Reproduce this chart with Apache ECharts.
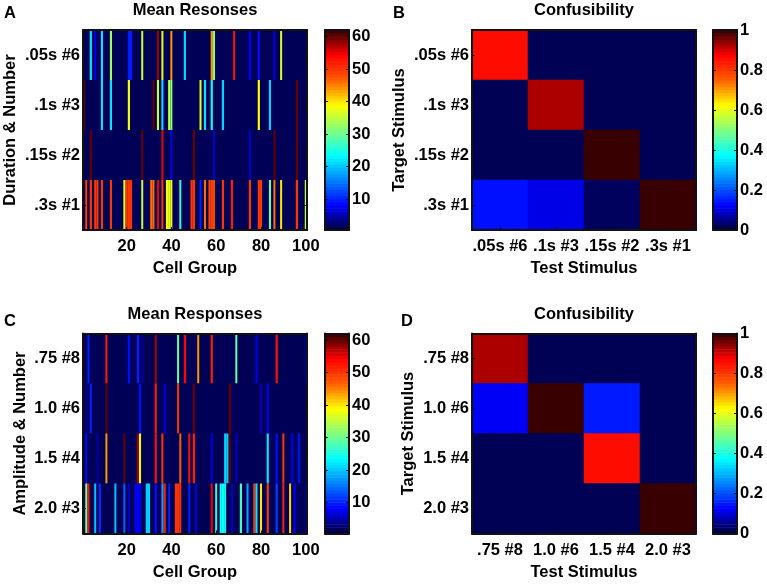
<!DOCTYPE html>
<html><head><meta charset="utf-8">
<style>html,body{margin:0;padding:0;background:#fff}#c{width:767px;height:584px}</style>
<script src="https://cdn.jsdelivr.net/npm/echarts@6/dist/echarts.min.js"></script>
</head><body><div id="c"></div>
<script>
// --- data: [cell group, mean response] for the non-silent groups of each stimulus row
const durationRow1 = [[4,22],[6,8],[9,22],[13,33],[21,10],[22,10],[27,36],[34,58],[36,37],[40,44],[46,21],[58,44],[59,31],[68,53],[75,8],[79,9],[86,7],[89,37]];
const durationRow2 = [[1,60],[9,22],[13,22],[21,38],[32,60],[34,36],[36,22],[39,35],[40,32],[53,37],[55,22],[58,24],[63,21],[79,39],[84,21],[96,60]];
const durationRow3 = [[4,60],[27,60],[36,55],[40,7],[50,60],[59,6],[75,6],[86,60],[96,60]];
const durationRow4 = [[2,49],[4,50],[6,50],[7,50],[9,50],[13,50],[19,37],[20,50],[21,50],[22,50],[27,35],[31,46],[32,46],[34,55],[36,50],[38,38],[39,38],[40,38],[44,27],[49,50],[50,50],[53,10],[55,46],[57,49],[58,49],[59,49],[63,50],[67,52],[75,50],[79,50],[80,50],[84,30],[86,46],[89,40],[96,50],[100,35]];
const amplitudeRow1 = [[3,10],[11,52],[21,9],[25,10],[27,5],[33,58],[43,30],[46,54],[52,44],[58,52],[69,30],[78,8],[87,53],[100,4]];
const amplitudeRow2 = [[2,4],[4,10],[11,60],[26,9],[33,52],[37,7],[43,50],[50,60],[66,60],[80,6],[83,8]];
const amplitudeRow3 = [[2,9],[7,5],[11,44],[19,60],[25,58],[26,38],[33,53],[36,50],[44,47],[48,53],[50,52],[58,7],[64,21],[65,21],[66,60],[69,6],[83,22],[87,9],[90,50],[94,8],[97,9]];
const amplitudeRow4 = [[2,30],[3,53],[6,20],[8,11],[15,20],[19,14],[21,6],[24,8],[25,8],[26,8],[29,21],[30,21],[33,9],[36,18],[37,52],[39,10],[42,50],[43,50],[44,50],[48,10],[51,7],[58,55],[60,27],[62,24],[63,24],[64,24],[67,6],[71,28],[74,18],[77,50],[78,22],[80,40],[83,50],[87,12],[90,52],[93,41],[95,8],[100,4]];
const responseBaseline = 1.8;
const durationLabels = ['.05s #6','.1s #3','.15s #2','.3s #1'];
const amplitudeLabels = ['.75 #8','1.0 #6','1.5 #4','2.0 #3'];
const confusionB = [[0.86,0.02,0.02,0.02],[0.02,0.925,0.02,0.02],[0.02,0.02,0.995,0.02],[0.14,0.11,0.025,0.995]];
const confusionD = [[0.925,0.02,0.02,0.02],[0.12,0.995,0.15,0.02],[0.02,0.02,0.86,0.02],[0.02,0.02,0.02,0.995]];
const responseTicks = [10,20,30,40,50,60];
const confusionTicks = [0,0.2,0.4,0.6,0.8,1];
const jet = ['#000035','#0000ff','#0080ff','#00ffff','#80ff80','#ffff00','#ff6000','#ff0000','#300000'];

// --- layout
const FONT = '"Liberation Sans",Arial,sans-serif';
const TXT = '#000';
const FS = 16.5;
const NAVY = '#000057';
const cells = Array.from({length:100},(_,i)=>String(i+1));
const grids=[], xAxes=[], yAxes=[], series=[], titles=[];

function txtStyle(){return {fontFamily:FONT,fontWeight:'bold',fontSize:FS,color:TXT};}
function frameLine(){return {show:true,onZero:false,lineStyle:{color:'#111',width:2}};}
function addGrid(left,top,w,h,bg){grids.push({left,top,width:w,height:h,containLabel:false,show:!!bg,backgroundColor:bg||'transparent',borderWidth:0});return grids.length-1;}

function addHeat(cfg){
  const g=addGrid(cfg.left,cfg.top,cfg.w,cfg.h,NAVY);
  const xBase={type:'category',gridIndex:g,data:cfg.xcats,boundaryGap:true,z:5,axisLine:frameLine(),splitLine:{show:false}};
  const xi=xAxes.length, yi=yAxes.length;
  xAxes.push(Object.assign({},xBase,{position:'bottom',name:cfg.xName,nameLocation:'middle',nameGap:cfg.xGap,nameTextStyle:txtStyle(),
    axisTick:{show:true,inside:true,length:3,alignWithLabel:true,interval:cfg.xInterval,lineStyle:{color:'#111'}},
    axisLabel:{show:true,interval:cfg.xInterval,margin:8,hideOverlap:false,...txtStyle()}}));
  xAxes.push(Object.assign({},xBase,{position:'top',axisTick:{show:false},axisLabel:{show:false}}));
  const yBase={type:'category',gridIndex:g,data:cfg.ycats,inverse:true,boundaryGap:true,z:5,axisLine:frameLine(),splitLine:{show:false},
    axisTick:{show:true,inside:true,length:3,alignWithLabel:true,lineStyle:{color:'#111'}}};
  yAxes.push(Object.assign({},yBase,{position:'left',name:cfg.yName,nameLocation:'middle',nameGap:cfg.yGap,nameRotate:90,nameTextStyle:txtStyle(),
    axisLabel:{show:true,margin:3,...txtStyle()}}));
  yAxes.push(Object.assign({},yBase,{position:'right',axisLabel:{show:false}}));
  if(cfg.fine){
    // columns narrower than ~2.3px need fractional widths, which the heatmap rounds up
    series.push({type:'custom',xAxisIndex:xi,yAxisIndex:yi,data:cfg.data,silent:true,animation:false,clip:true,
      dimensions:['x','y','v'],encode:{x:0,y:1},
      renderItem:(p,api)=>{
        const c=api.coord([api.value(0),api.value(1)]), s=api.size([1,1]);
        return {type:'rect',shape:{x:c[0]-s[0]/2,y:c[1]-s[1]/2,width:s[0],height:s[1]},style:{fill:api.visual('color')}};
      }});
  } else {
    series.push({type:'heatmap',xAxisIndex:xi,yAxisIndex:yi,data:cfg.data,silent:true,animation:false,progressive:0,emphasis:{disabled:true}});
  }
  titles.push({text:cfg.title,left:cfg.left+cfg.w/2,textAlign:'center',top:cfg.titleTop,textStyle:txtStyle(),padding:0});
  titles.push({text:cfg.letter,left:cfg.letterX,top:cfg.letterTop,textAlign:'center',textStyle:txtStyle(),padding:0});
}
function addBar(cfg){
  const g=addGrid(cfg.left,cfg.top,cfg.w,cfg.h);
  const xi=xAxes.length, yi=yAxes.length;
  const xBase={type:'value',gridIndex:g,min:0,max:1,z:5,axisLine:frameLine(),axisTick:{show:false},axisLabel:{show:false},splitLine:{show:false}};
  xAxes.push(Object.assign({},xBase,{position:'bottom'}));
  xAxes.push(Object.assign({},xBase,{position:'top'}));
  const yBase={type:'value',gridIndex:g,min:cfg.min,max:cfg.max,z:5,axisLine:frameLine(),splitLine:{show:false},
    axisTick:{show:true,inside:true,length:3,customValues:cfg.ticks,lineStyle:{color:'#111'}}};
  yAxes.push(Object.assign({},yBase,{position:'left',axisLabel:{show:false}}));
  yAxes.push(Object.assign({},yBase,{position:'right',axisLabel:{show:true,margin:3,customValues:cfg.ticks,formatter:v=>String(v),...txtStyle()}}));
  const steps=64, ramp=[];
  for(let i=0;i<steps;i++){
    const lo=cfg.min+(cfg.max-cfg.min)*i/steps, hi=cfg.min+(cfg.max-cfg.min)*(i+1)/steps;
    ramp.push([lo,hi,(lo+hi)/2]);
  }
  series.push({type:'custom',xAxisIndex:xi,yAxisIndex:yi,data:ramp,silent:true,animation:false,clip:true,
    dimensions:['lo','hi','mid'],encode:{y:[0,1]},
    renderItem:(p,api)=>{
      const a=api.coord([0,api.value(0)]), b=api.coord([1,api.value(1)]);
      return {type:'rect',shape:{x:a[0],y:b[1],width:b[0]-a[0],height:a[1]-b[1]+0.6},style:{fill:api.visual('color')}};
    }});
}
function respData(rows){
  const out=[];
  rows.forEach((r,ri)=>{
    const vals=new Map(r);
    for(let k=1;k<=100;k++) out.push([k-1,ri,vals.has(k)?vals.get(k):responseBaseline]);
  });
  return out;
}
function confData(m){
  const out=[];
  m.forEach((r,ri)=>r.forEach((v,ci)=>out.push([ci,ri,v])));
  return out;
}
const xEvery20=i=>(i+1)%20===0;
const LX=83, RX=472, W=224, H=200, TOP1=30, TOP2=333.5, BW=24;

addHeat({fine:true,left:LX,top:TOP1,w:W,h:H,xcats:cells,ycats:durationLabels,xName:'Cell Group',yName:'Duration & Number',xGap:30,yGap:64,xInterval:xEvery20,data:respData([durationRow1,durationRow2,durationRow3,durationRow4]),title:'Mean Resonses',titleTop:2,letter:'A',letterX:10,letterTop:5});
addBar({left:325,top:TOP1,w:BW,h:H,min:0.5,max:62,ticks:responseTicks});
addHeat({left:RX,top:TOP1,w:W,h:H,xcats:durationLabels,ycats:durationLabels,xName:'Test Stimulus',yName:'Target Stimulus',xGap:30,yGap:64,xInterval:0,data:confData(confusionB),title:'Confusibility',titleTop:2,letter:'B',letterX:399,letterTop:5});
addBar({left:713,top:TOP1,w:BW,h:H,min:0,max:1,ticks:confusionTicks});
addHeat({fine:true,left:LX,top:TOP2,w:W,h:H,xcats:cells,ycats:amplitudeLabels,xName:'Cell Group',yName:'Amplitude & Number',xGap:30,yGap:54,xInterval:xEvery20,data:respData([amplitudeRow1,amplitudeRow2,amplitudeRow3,amplitudeRow4]),title:'Mean Responses',titleTop:306,letter:'C',letterX:10,letterTop:313});
addBar({left:325,top:TOP2,w:BW,h:H,min:0.5,max:62,ticks:responseTicks});
addHeat({left:RX,top:TOP2,w:W,h:H,xcats:amplitudeLabels,ycats:amplitudeLabels,xName:'Test Stimulus',yName:'Target Stimulus',xGap:30,yGap:55,xInterval:0,data:confData(confusionD),title:'Confusibility',titleTop:306,letter:'D',letterX:407,letterTop:313});
addBar({left:713,top:TOP2,w:BW,h:H,min:0,max:1,ticks:confusionTicks});

const chart=echarts.init(document.getElementById('c'),null,{renderer:'canvas'});
chart.setOption({
  animation:false,backgroundColor:'#fff',
  title:titles,grid:grids,xAxis:xAxes,yAxis:yAxes,series,
  visualMap:[
    {show:false,type:'continuous',min:0.5,max:62,dimension:2,seriesIndex:[0,1,4,5],inRange:{color:jet}},
    {show:false,type:'continuous',min:0,max:1,dimension:2,seriesIndex:[2,3,6,7],inRange:{color:jet}}
  ]
});
</script></body></html>
